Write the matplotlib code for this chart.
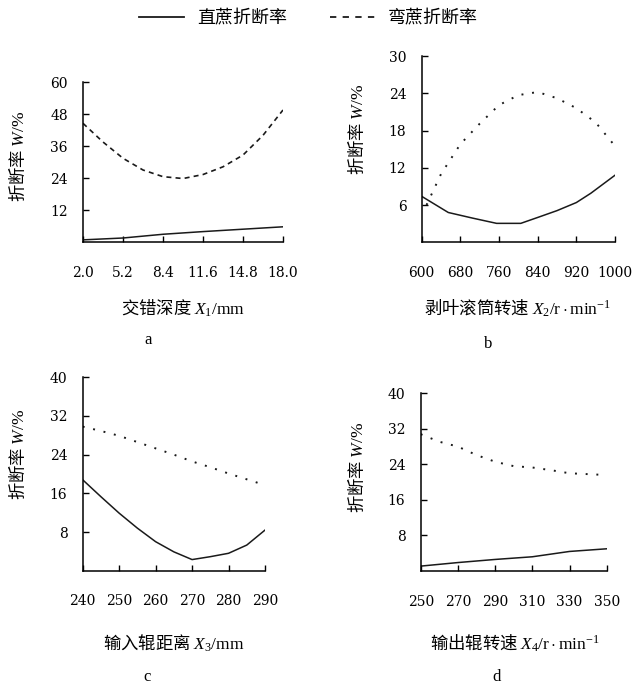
import matplotlib
matplotlib.use("Agg")
import matplotlib.pyplot as plt
from matplotlib.lines import Line2D

plt.rcParams["font.family"] = ["DejaVu Serif", "Noto Sans CJK SC"]
plt.rcParams["mathtext.fontset"] = "custom"
plt.rcParams["mathtext.rm"] = "Liberation Serif"
plt.rcParams["mathtext.it"] = "Liberation Serif:italic"

# a: 交错深度
a_x_bent = [2.0, 3.6, 5.2, 6.8, 8.4, 10.0, 11.6, 13.2, 14.8, 16.4, 18.0]
a_bent = [44.5, 37.5, 31.4, 27.0, 24.5, 23.8, 25.3, 28.2, 32.6, 40.0, 49.5]
a_x_straight = [2.0, 5.2, 8.4, 11.6, 14.8, 18.0]
a_straight = [0.8, 1.5, 2.9, 3.9, 4.8, 5.7]
a_xticks = [2.0, 5.2, 8.4, 11.6, 14.8, 18.0]
a_yticks = [12, 24, 36, 48, 60]

# b: 剥叶滚筒转速
b_x_bent = [610, 640, 680, 720, 760, 800, 840, 880, 920, 960, 1000]
b_bent = [6.0, 11.0, 15.8, 19.1, 22.1, 23.7, 24.2, 23.2, 21.6, 19.3, 15.5]
b_x_straight = [600, 655, 705, 755, 805, 840, 880, 920, 950, 1000]
b_straight = [7.4, 4.8, 3.9, 3.05, 3.05, 4.0, 5.1, 6.4, 7.9, 10.8]
b_xticks = [600, 680, 760, 840, 920, 1000]
b_yticks = [6, 12, 18, 24, 30]

# c: 输入辊距离
c_x = [240, 245, 250, 255, 260, 265, 270, 275, 280, 285, 290]
c_bent = [29.8, 28.9, 27.9, 26.6, 25.3, 24.0, 22.6, 21.4, 20.1, 18.9, 17.7]
c_straight = [18.8, 15.3, 11.9, 8.8, 6.0, 3.9, 2.3, 2.9, 3.6, 5.3, 8.4]
c_xticks = [240, 250, 260, 270, 280, 290]
c_yticks = [8, 16, 24, 32, 40]

# d: 输出辊转速
d_x_bent = [250, 260, 270, 280, 290, 300, 310, 320, 330, 340, 350]
d_bent = [30.8, 29.1, 28.0, 26.1, 24.6, 23.6, 23.3, 22.7, 22.0, 21.8, 21.6]
d_x_straight = [250, 270, 290, 310, 330, 350]
d_straight = [1.1, 1.9, 2.6, 3.2, 4.4, 5.0]
d_xticks = [250, 270, 290, 310, 330, 350]
d_yticks = [8, 16, 24, 32, 40]

W, H = 634, 688
CJK = "Noto Sans CJK SC"
LC = "#1a1a1a"

fig = plt.figure(figsize=(W / 100, H / 100), dpi=100)


def px_axes(x0, y0, x1, y1):
    return fig.add_axes([x0 / W, 1 - y1 / H, (x1 - x0) / W, (y1 - y0) / H])


def style(ax, xticks, yticks, xfmt, ylim):
    ax.set_xlim(xticks[0], xticks[-1])
    ax.set_ylim(*ylim)
    ax.set_xticks(xticks)
    ax.set_xticklabels([xfmt % v for v in xticks])
    ax.set_yticks(yticks)
    for s in ["top", "right"]:
        ax.spines[s].set_visible(False)
    for s in ["left", "bottom"]:
        ax.spines[s].set_linewidth(1.1)
    ax.tick_params(direction="in", length=4, width=1.0, labelsize=10)
    ax.tick_params(axis="x", pad=17)
    ax.tick_params(axis="y", pad=11)


def labels(xlabel, xl_pos, ylab_pos, letter, letter_pos):
    fig.text(xl_pos[0] / W, 1 - xl_pos[1] / H, xlabel, family=CJK, fontsize=12.5,
             ha="center", va="center")
    fig.text(ylab_pos[0] / W, 1 - ylab_pos[1] / H, "折断率 $W\\mathrm{/\\%}$", family=CJK,
             fontsize=12.5, rotation=90, ha="center", va="center")
    fig.text(letter_pos[0] / W, 1 - letter_pos[1] / H, letter, family="Liberation Serif",
             fontsize=12, ha="center", va="center")


dashed = dict(color=LC, lw=1.2, linestyle=(0, (3, 2.5)))
dotted = dict(color=LC, lw=1.4, linestyle=(0, (1, 4.5)))
solid = dict(color=LC, lw=1.1)

# a
ax = px_axes(83, 82, 283, 242)
ax.plot(a_x_straight, a_straight, **solid)
ax.plot(a_x_bent, a_bent, **dashed)
style(ax, a_xticks, a_yticks, "%.1f", (0, 60))
labels("交错深度 $X_1\\mathrm{/mm}$", (183, 308), (18, 156), "a", (148, 340))

# b
ax = px_axes(421.7, 56, 615, 242.3)
ax.plot(b_x_straight, b_straight, **solid)
ax.plot(b_x_bent, b_bent, **dotted)
style(ax, b_xticks, b_yticks, "%d", (0, 30))
labels("剥叶滚筒转速 $X_2\\mathrm{/r\\cdot min^{-1}}$", (518, 308), (357, 129), "b", (488, 344))

# c
ax = px_axes(82.7, 377.3, 265, 570.7)
ax.plot(c_x, c_straight, **solid)
ax.plot(c_x, c_bent, **dotted)
style(ax, c_xticks, c_yticks, "%d", (0, 40))
labels("输入辊距离 $X_3\\mathrm{/mm}$", (174, 643), (18, 454), "c", (147, 677))

# d
ax = px_axes(420.7, 393.3, 606.7, 571)
ax.plot(d_x_straight, d_straight, **solid)
ax.plot(d_x_bent, d_bent, **dotted)
style(ax, d_xticks, d_yticks, "%d", (0, 40))
labels("输出辊转速 $X_4\\mathrm{/r\\cdot min^{-1}}$", (515, 643), (357, 467), "d", (497, 677))

handles = [Line2D([], [], color=LC, lw=1.3),
           Line2D([], [], color=LC, lw=1.3, linestyle=(0, (3.5, 3.5)))]
fig.legend(handles, ["直蔗折断率", "弯蔗折断率"], loc="center",
           bbox_to_anchor=(308.5 / W, 1 - 18 / H), ncol=2, frameon=False,
           prop={"family": CJK, "size": 13}, handlelength=2.5, handletextpad=0.7,
           columnspacing=2.4)

fig.savefig("out.png", dpi=100)
